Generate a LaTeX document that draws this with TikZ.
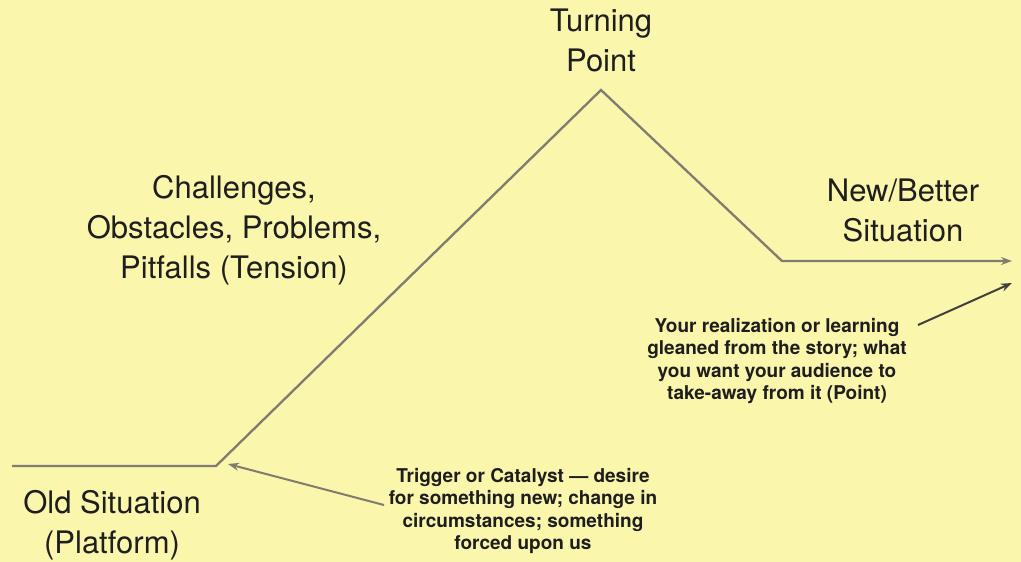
\documentclass[tikz,border=0pt]{standalone}
\usepackage{fontspec}
\setmainfont{TeX Gyre Heros}
\usetikzlibrary{arrows.meta}
\definecolor{paper}{RGB}{250,246,172}
\definecolor{pathgrey}{RGB}{128,124,112}
\definecolor{ink}{RGB}{30,30,30}
\tikzset{
  bigtext/.style={font=\fontsize{31}{40}\selectfont, text=ink, align=center, inner sep=0pt},
  smalltext/.style={font=\bfseries\fontsize{19}{22.5}\selectfont, text=ink, align=center, inner sep=0pt},
  storyline/.style={draw=pathgrey, line width=2.3pt, line join=miter},
  pointer/.style={line width=2pt, -{Stealth[length=11pt,width=8pt]}},
}
\begin{document}
\begin{tikzpicture}[x=1pt,y=-1pt]
\useasboundingbox[fill=paper] (0,0) rectangle (1021,562);
\coordinate (start) at (12,466);
\coordinate (base) at (216,466);
\coordinate (peak) at (601,90);
\coordinate (valley) at (782,261);
\coordinate (finish) at (1012,261);
\coordinate (trigtip) at (228,464);
\coordinate (pointtip) at (1012,283);
\coordinate (trigfrom) at (384,505);
\coordinate (realfrom) at (918,325);
\draw[storyline, -{Stealth[length=11pt,width=8pt]}] (start) -- (base) -- (peak) -- (valley) -- (finish);

\node[bigtext] (turning) at (601,40) {Turning\\Point};
\node[bigtext] (challenges) at (234,230) {Challenges,\\Obstacles, Problems,\\Pitfalls (Tension)};
\node[bigtext] (newsit) at (903,210) {New/Better\\Situation};
\node[bigtext] (oldsit) at (112,525) {Old Situation\\(Platform)};
\node[smalltext] (trigger) at (523,511) {Trigger or Catalyst --- desire\\for something new; change in\\circumstances; something\\forced upon us};
\node[smalltext] (realize) at (777,361) {Your realization or learning\\gleaned from the story; what\\you want your audience to\\take-away from it (Point)};

\draw[pointer, draw=pathgrey, fill=pathgrey] (trigfrom) -- (trigtip);
\draw[pointer, draw=ink!85, fill=ink!85] (realfrom) -- (pointtip);
\end{tikzpicture}
\end{document}
